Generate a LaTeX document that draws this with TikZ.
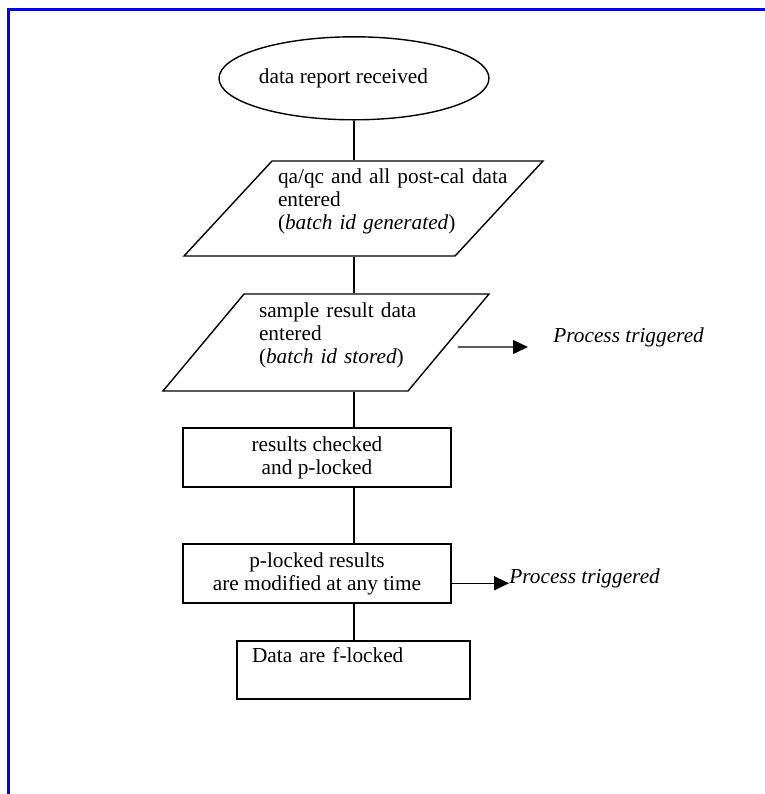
\documentclass[tikz,border=0pt]{standalone}
\usepackage{fontspec}
\setmainfont{Liberation Serif}
\usetikzlibrary{shapes.geometric,arrows.meta}

\begin{document}
\begin{tikzpicture}[x=0.5pt,y=-0.5pt,
	font=\fontsize{10.65}{11.5}\selectfont,
	line/.style={line width=0.7pt},
	terminal/.style={draw,line,ellipse,inner sep=0pt,minimum width=135pt,minimum height=41.5pt},
	io/.style={draw,line,trapezium,trapezium stretches body,inner sep=0pt,
		text width=#1,align=left,text height=8pt,text depth=33.5pt},
	process/.style={draw,line,rectangle,inner sep=0pt,minimum width=134pt,minimum height=29.5pt,align=center},
	note/.style={inner sep=0pt,anchor=base west,font=\fontsize{10.65}{11.5}\selectfont\itshape},
	flow/.style={line,-{Triangle[length=7.5pt,width=7pt]}}]
	\useasboundingbox (0,0) rectangle (765,794);
	\draw[blue,line width=1.25pt] (8.7,794) -- (8.7,9.3) -- (765,9.3);

	\node (report) [terminal] at (354,78.3) {\hspace*{-10.5pt}data report received};
	\node (qaqc) [io=91.5pt,trapezium left angle=43.33,trapezium right angle=136.67,
		minimum height=47.5pt] at (363.5,208.5)
		{\hspace*{3pt}\mbox{qa/qc and all post-cal data}\\
		\hspace*{3pt}\mbox{entered}\\
		\hspace*{3pt}\mbox{(\textit{batch id generated})}};
	\node (sample) [io=82pt,trapezium left angle=45.7,trapezium right angle=134.3,
		minimum height=48.5pt] at (326,342.5)
		{\hspace*{7.5pt}\mbox{sample result data}\\
		\hspace*{7.5pt}\mbox{entered}\\
		\hspace*{7.5pt}\mbox{(\textit{batch id stored})}};
	\node (check) [process] at (317,457.5) {results checked\\ and p-locked};
	\node (modify) [process] at (317,573.5) {p-locked results\\ are modified at any time};
	\node (flock) [draw,line,inner xsep=7.5pt,inner ysep=0pt,minimum width=116.5pt,minimum height=29pt,
		text width=101.5pt,align=left,text height=8pt,text depth=16pt] at (353.5,670) {Data are f-locked};

	\node (trig1) [note] at (553,342.3) {Process triggered};
	\node (trig2) [note] at (509,583.3) {Process triggered};

	\draw[line] (report.south) -- (report.south |- qaqc.north)
		(report.south |- qaqc.south) -- (report.south |- sample.north)
		(report.south |- sample.south) -- (report.south |- check.north)
		(report.south |- check.south) -- (report.south |- modify.north)
		(report.south |- modify.south) -- (report.south |- flock.north);
	\draw[flow] ([xshift=4.25pt,yshift=-2.25pt]sample.east) -- ([xshift=-12.5pt,yshift=-2.35pt]trig1.base west);
	\draw[flow] (modify.east |- trig2.base west) -- (trig2.base west);
\end{tikzpicture}
\end{document}
